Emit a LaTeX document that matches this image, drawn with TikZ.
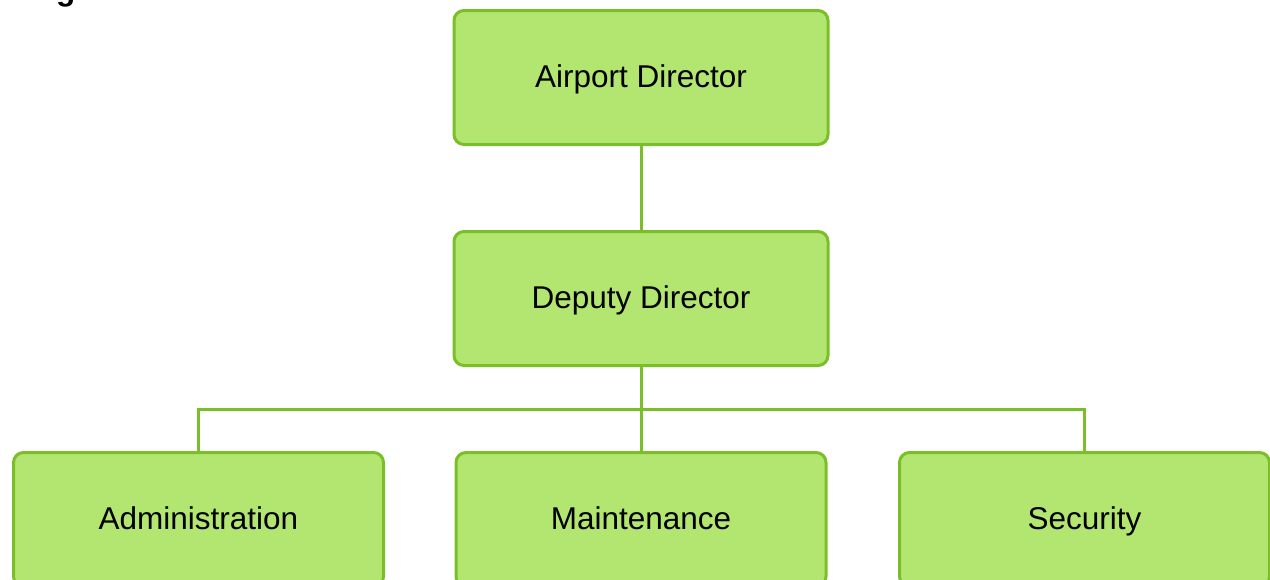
\documentclass[tikz,border=0pt]{standalone}
\usepackage{fontspec}
\setmainfont{Liberation Sans}
\definecolor{boxfill}{HTML}{B2E670}
\definecolor{boxline}{HTML}{7BBF28}
\begin{document}
\begin{tikzpicture}[x=1pt,y=-1pt,
  orgbox/.style={draw=boxline, fill=boxfill, line width=3pt, rounded corners=10pt,
    minimum width=374pt, minimum height=134pt, inner sep=0pt,
    text height=22pt, text depth=3pt,
    font=\fontsize{31.5}{36}\selectfont, text=black},
  lowbox/.style={orgbox, minimum width=370pt},
  link/.style={draw=boxline, line width=3pt}]
\useasboundingbox (0,0) rectangle (1270,579);
\node[anchor=base west, font=\fontsize{31.5}{36}\selectfont\bfseries, inner sep=0pt] (title) at (56,0) {g};
\node[orgbox] (dir) at (641,77.5) {Airport Director};
\node[orgbox] (dep) at (641,298.5) {Deputy Director};
\node[lowbox] (adm) at (198.5,519.5) {Administration};
\node[lowbox] (mai) at (641,519.5) {Maintenance};
\node[lowbox] (sec) at (1084.5,519.5) {Security};
\coordinate (bus) at (641,409);
\draw[link] (dir.south) -- (dep.north);
\draw[link] (dep.south) -- (bus);
\draw[link] (bus) -| (adm.north);
\draw[link] (bus) -| (sec.north);
\draw[link] (bus) -- (mai.north);
\end{tikzpicture}
\end{document}
